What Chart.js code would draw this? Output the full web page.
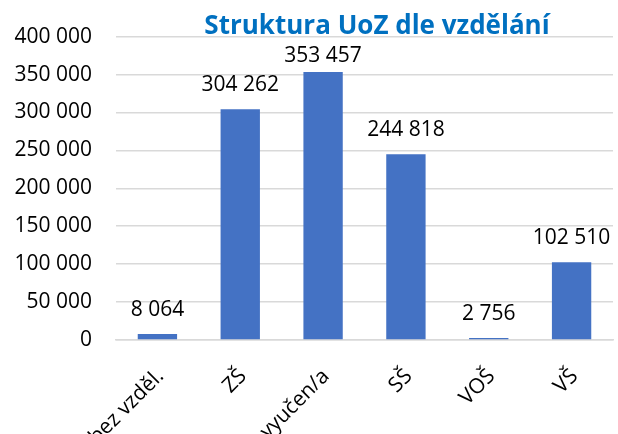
<!DOCTYPE html>
<html>
<head>
<meta charset="utf-8">
<script src="https://cdn.jsdelivr.net/npm/chart.js@4.4.1/dist/chart.umd.min.js"></script>
<style>
  html, body { margin: 0; padding: 0; background: #fff; }
  #wrap { position: relative; width: 618px; height: 434px; }
</style>
</head>
<body>
<div id="wrap"><canvas id="chart"></canvas></div>
<script>
// Data
const titleText = "Struktura UoZ dle vzdělání";
const categories = ["bez vzděl.", "ZŠ", "vyučen/a", "SŠ", "VOŠ", "VŠ"];
const counts = [8064, 304262, 353457, 244818, 2756, 102510];
const yTicks = [0, 50000, 100000, 150000, 200000, 250000, 300000, 350000, 400000];

const FONT = "'Open Sans', 'DejaVu Sans', sans-serif";

// thousands with a space, e.g. 304 262
function fmt(v) {
  return String(v).replace(/\B(?=(\d{3})+(?!\d))/g, " ");
}

// Title drawn over the plot, centred like the original
const titlePlugin = {
  id: "titleText",
  afterDraw(chart) {
    const ctx = chart.ctx;
    ctx.save();
    ctx.font = "bold 26px " + FONT;
    ctx.fillStyle = "#0070C0";
    ctx.textAlign = "center";
    ctx.textBaseline = "alphabetic";
    ctx.fillText(titleText, 377, 34);
    ctx.restore();
  }
};

// Value labels above each bar
const valueLabels = {
  id: "valueLabels",
  afterDatasetsDraw(chart) {
    const ctx = chart.ctx;
    const meta = chart.getDatasetMeta(0);
    const top = chart.chartArea.top;
    ctx.save();
    ctx.font = "21px " + FONT;
    ctx.fillStyle = "#000";
    ctx.textAlign = "center";
    ctx.textBaseline = "alphabetic";
    meta.data.forEach((bar, i) => {
      const y = Math.max(bar.y - 18, top + 25);
      ctx.fillText(fmt(counts[i]), bar.x, y);
    });
    ctx.restore();
  }
};

new Chart(document.getElementById("chart"), {
  type: "bar",
  data: {
    labels: categories,
    datasets: [{
      data: counts,
      backgroundColor: "#4472C4",
      borderWidth: 0,
      barPercentage: 0.475,
      categoryPercentage: 1
    }]
  },
  options: {
    responsive: true,
    maintainAspectRatio: false,
    animation: false,
    layout: { padding: { top: 30, right: 5, left: 0, bottom: 0 } },
    plugins: {
      legend: { display: false },
      title: { display: false },
      tooltip: { enabled: false }
    },
    scales: {
      x: {
        grid: { display: false, drawTicks: false },
        border: { display: true, color: "#d9d9d9", width: 1.5 },
        ticks: {
          color: "#000",
          font: { family: FONT, size: 21 },
          minRotation: 45,
          maxRotation: 45,
          padding: 24,
          labelOffset: 3,
          autoSkip: false
        },
        afterFit(scale) { scale.height = 94; }
      },
      y: {
        min: 0,
        max: 400000,
        grid: { color: "#d9d9d9", lineWidth: 1.5, drawTicks: false },
        border: { display: false },
        afterBuildTicks(scale) { scale.ticks = yTicks.map(v => ({ value: v })); },
        ticks: {
          color: "#000",
          font: { family: FONT, size: 21 },
          padding: 24,
          callback: v => fmt(v)
        },
        afterFit(scale) { scale.width = 116; }
      }
    }
  },
  plugins: [valueLabels, titlePlugin]
});
</script>
</body>
</html>
